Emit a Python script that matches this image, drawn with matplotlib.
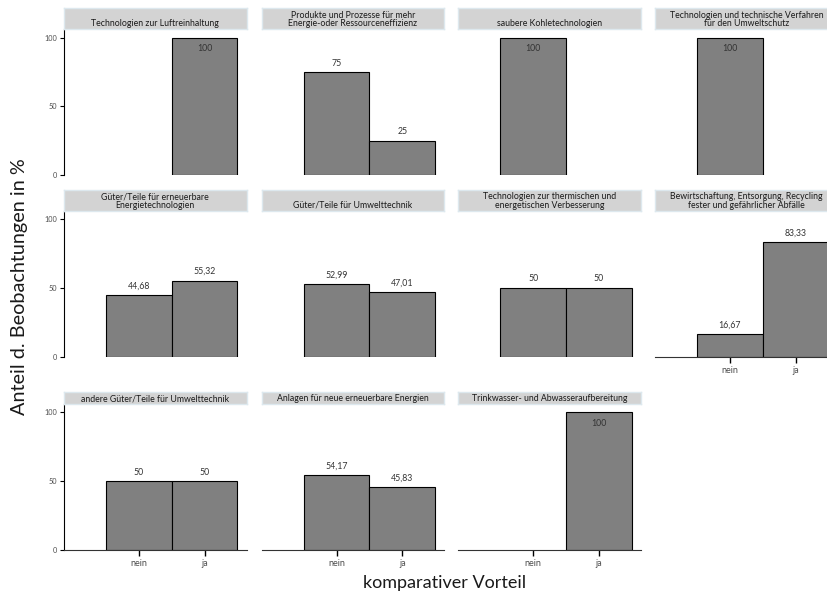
import matplotlib.pyplot as plt
import numpy as np

plt.rcParams['font.family'] = ['Lato', 'DejaVu Sans']

titles = [
    "Technologien zur Luftreinhaltung",
    "Produkte und Prozesse für mehr\nEnergie-oder Ressourceneffizienz",
    "saubere Kohletechnologien",
    "Technologien und technische Verfahren\nfür den Umweltschutz",
    "Güter/Teile für erneuerbare\nEnergietechnologien",
    "Güter/Teile für Umwelttechnik",
    "Technologien zur thermischen und\nenergetischen Verbesserung",
    "Bewirtschaftung, Entsorgung, Recycling\nfester und gefährlicher Abfälle",
    "andere Güter/Teile für Umwelttechnik",
    "Anlagen für neue erneuerbare Energien",
    "Trinkwasser- und Abwasseraufbereitung",
]
kategorien = ["nein", "ja"]
nein = [None, 75, 100, 100, 44.68, 52.99, 50, 16.67, 50, 54.17, None]
ja = [100, 25, None, None, 55.32, 47.01, 50, 83.33, 50, 45.83, 100]

W, H = 827, 597
fig = plt.figure(figsize=(W / 100, H / 100), dpi=100)

col_left = [64, 261.7, 458.3, 655]
pw = 182.7
row_top = [29.3, 210.7, 404]
ph = 146
strip_top = [8.3, 190, 391.7]


def fmt(v):
    if float(v).is_integer():
        return str(int(v))
    return f"{v:.2f}".replace(".", ",")


for i, t in enumerate(titles):
    r, c = divmod(i, 4)
    x0 = col_left[c]
    y0 = row_top[r]
    ax = fig.add_axes([x0 / W, 1 - (y0 + ph) / H, pw / W, ph / H])
    vals = [nein[i], ja[i]]
    for k, v in enumerate(vals):
        if v is None:
            continue
        ax.bar(k + 1, v, width=1, color='#808080', edgecolor='black', linewidth=0.8)
        if v >= 95:
            ax.text(k + 1, v - 8, fmt(v), ha='center', va='center', fontsize=6.3, color='#333333')
        else:
            ax.text(k + 1, v + 6.5, fmt(v), ha='center', va='center', fontsize=6.3, color='#333333')
    ax.set_xlim(-0.14, 2.64)
    ax.set_ylim(0, 106)
    for s in ['top', 'right']:
        ax.spines[s].set_visible(False)

    show_x = (r == 2) or (i == 7)
    if show_x:
        ax.set_xticks([1, 2])
        ax.set_xticklabels(kategorien)
        ax.tick_params(axis='x', length=4, width=1, labelsize=6.5, labelcolor='#4d4d4d', pad=2.5)
        ax.spines['bottom'].set_color('#333333')
    else:
        ax.set_xticks([])
        ax.spines['bottom'].set_visible(False)

    if c == 0:
        ax.set_yticks([0, 50, 100])
        ax.tick_params(axis='y', length=3, width=0.8, labelsize=5.3, labelcolor='#4d4d4d', pad=2)
        ax.spines['left'].set_color('#000000')
    else:
        ax.set_yticks([])
        ax.spines['left'].set_visible(False)

    # strip
    sh = y0 - strip_top[r]
    sax = fig.add_axes([x0 / W, 1 - y0 / H, pw / W, sh / H])
    sax.set_facecolor('#d3d3d3')
    sax.set_xticks([])
    sax.set_yticks([])
    for s in sax.spines.values():
        s.set_color('#dde8ee')
        s.set_linewidth(1)
    sax.text(0.5, 1.0 / sh, t, ha='center', va='bottom', fontsize=6.3,
             color='#1a1a1a', linespacing=0.9, transform=sax.transAxes)

fig.text(20 / W, 1 - 287 / H, "Anteil d. Beobachtungen in %", rotation=90,
         ha='center', va='center', fontsize=14.3, color='#1a1a1a')
fig.text(445 / W, 1 - 583 / H, "komparativer Vorteil", ha='center', va='center',
         fontsize=13, color='#1a1a1a')

fig.savefig('out.png', dpi=100)
